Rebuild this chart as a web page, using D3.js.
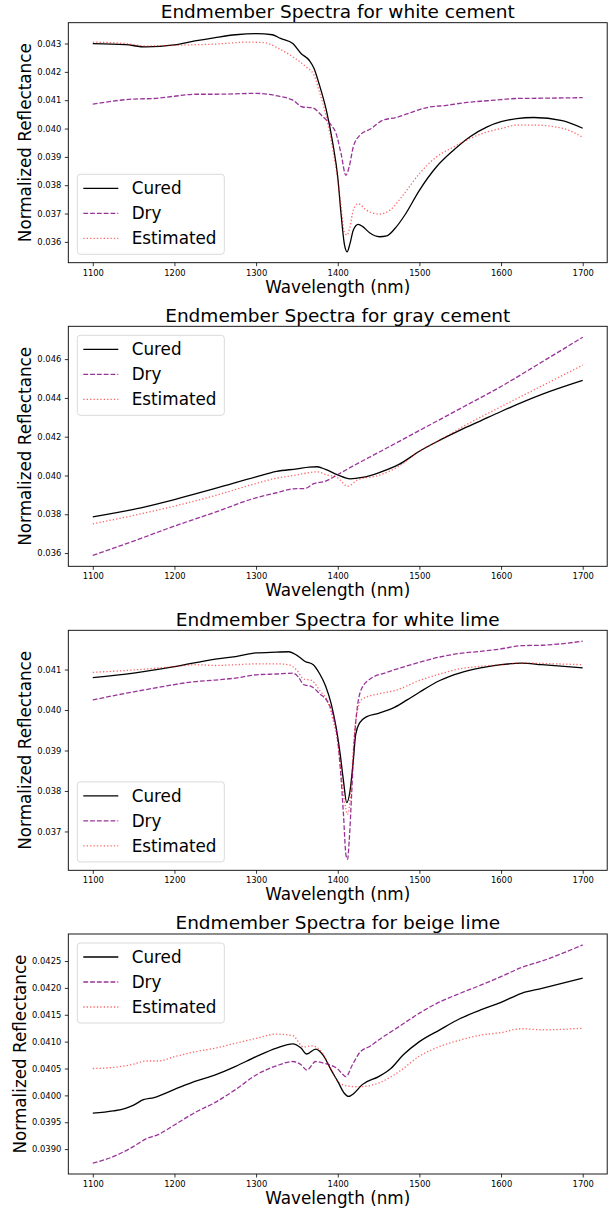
<!DOCTYPE html>
<html>
<head>
<meta charset="utf-8">
<script src="https://cdn.jsdelivr.net/npm/d3@7"></script>
<style>
  body { margin: 0; background: #fff; }
  svg { font-family: "DejaVu Sans", sans-serif; display: block; }
</style>
</head>
<body>
<svg id="chart" width="616" height="1211"></svg>
<script>
// ---- data ----
var xTicks = [1100, 1200, 1300, 1400, 1500, 1600, 1700]

// white cement
var wcCuredNm = [1100,1140,1165,1200,1225,1250,1275,1300,1320,1330,1345,1355,1365,1371,1377,1386,1394,1400,1404,1408,1411.5,1415,1419,1425,1431,1439,1451,1460,1470,1482,1500,1521,1542,1562,1583,1600,1619,1640,1675,1700]
var wcCured = [0.04300,0.04296,0.04288,0.04295,0.04309,0.04321,0.04331,0.04335,0.04331,0.04318,0.04300,0.04265,0.04241,0.04212,0.04159,0.04065,0.03947,0.03829,0.03700,0.03594,0.03565,0.03594,0.03641,0.03662,0.03653,0.03632,0.03618,0.03621,0.03647,0.03694,0.03782,0.03865,0.03924,0.03971,0.04006,0.04024,0.04035,0.04039,0.04028,0.04001]
var wcDryNm = [1100,1150,1175,1200,1225,1250,1300,1328,1345,1357,1369,1382,1392,1398,1404,1410,1414,1419,1427,1441,1455,1472,1492,1509,1533,1558,1583,1600,1619,1650,1700]
var wcDry = [0.04086,0.04104,0.04106,0.04114,0.04121,0.04121,0.04124,0.04114,0.04100,0.04076,0.04073,0.04041,0.04012,0.03982,0.03912,0.03835,0.03865,0.03935,0.03976,0.04000,0.04029,0.04039,0.04059,0.04074,0.04082,0.04092,0.04098,0.04102,0.04106,0.04107,0.04109]
var wcEstNm = [1100,1140,1165,1200,1250,1290,1310,1328,1345,1361,1371,1377,1386,1394,1400,1404,1408,1411.5,1415,1419,1425,1435,1451,1464,1480,1500,1521,1542,1562,1583,1600,1619,1640,1675,1700]
var wcEst = [0.04305,0.04300,0.04291,0.04294,0.04298,0.04305,0.04303,0.04282,0.04253,0.04218,0.04188,0.04135,0.04041,0.03924,0.03818,0.03724,0.03635,0.03624,0.03653,0.03712,0.03735,0.03712,0.03698,0.03712,0.03765,0.03841,0.03900,0.03935,0.03965,0.03988,0.04000,0.04012,0.04012,0.04001,0.03969]
var wcTicks = [0.036,0.037,0.038,0.039,0.040,0.041,0.042,0.043]

// gray cement
var gcCuredNm = [1100,1150,1200,1250,1300,1325,1350,1365,1375,1385,1400,1415,1430,1450,1475,1500,1525,1550,1575,1600,1650,1700]
var gcCured = [0.03787,0.03825,0.03876,0.03933,0.03993,0.04021,0.04034,0.04043,0.04045,0.04031,0.04003,0.03983,0.03990,0.04014,0.04057,0.04125,0.04182,0.04234,0.04282,0.04330,0.04418,0.04490]
var gcDryNm = [1100,1150,1200,1250,1300,1325,1345,1360,1370,1385,1400,1420,1450,1500,1550,1600,1650,1700]
var gcDry = [0.03588,0.03662,0.03739,0.03811,0.03885,0.03911,0.03931,0.03933,0.03957,0.03971,0.04005,0.04052,0.04119,0.04232,0.04345,0.04459,0.04585,0.04713]
var gcEstNm = [1100,1150,1200,1250,1300,1325,1350,1375,1385,1400,1412,1425,1450,1475,1500,1525,1550,1600,1650,1700]
var gcEst = [0.03751,0.03794,0.03842,0.03897,0.03959,0.03986,0.04003,0.04019,0.04005,0.03988,0.03945,0.03979,0.04000,0.04048,0.04125,0.04182,0.04244,0.04355,0.04462,0.04569]
var gcTicks = [0.036,0.038,0.040,0.042,0.044,0.046]

// white lime
var wlCuredNm = [1100,1150,1200,1250,1275,1300,1325,1340,1350,1360,1370,1378,1385,1392,1398,1403,1407,1411,1415,1419,1422,1427,1435,1450,1470,1485,1500,1525,1550,1575,1600,1625,1650,1700]
var wlCured = [0.04080,0.04091,0.04107,0.04126,0.04132,0.04141,0.04143,0.04144,0.04135,0.04120,0.04112,0.04089,0.04060,0.04015,0.03957,0.03891,0.03825,0.03771,0.03800,0.03874,0.03940,0.03969,0.03983,0.03992,0.04007,0.04025,0.04044,0.04073,0.04092,0.04104,0.04112,0.04116,0.04112,0.04104]
var wlDryNm = [1100,1150,1175,1200,1225,1250,1275,1300,1325,1345,1352,1358,1368,1378,1388,1395,1400,1404,1407,1410,1412,1414,1417,1420,1424,1430,1440,1460,1480,1500,1525,1550,1575,1600,1625,1650,1700]
var wlDry = [0.04025,0.04045,0.04054,0.04063,0.04070,0.04074,0.04079,0.04087,0.04089,0.04091,0.04081,0.04063,0.04058,0.04040,0.04019,0.03982,0.03924,0.03833,0.03742,0.03643,0.03631,0.03676,0.03792,0.03916,0.04007,0.04056,0.04077,0.04093,0.04106,0.04118,0.04131,0.04140,0.04145,0.04151,0.04159,0.04160,0.04170]
var wlEstNm = [1100,1150,1175,1200,1225,1250,1275,1300,1325,1340,1350,1358,1368,1378,1388,1395,1400,1404,1407,1410,1412,1414,1417,1420,1424,1430,1450,1470,1500,1525,1550,1575,1600,1625,1650,1700]
var wlEst = [0.04093,0.04099,0.04103,0.04107,0.04112,0.04110,0.04112,0.04114,0.04114,0.04112,0.04098,0.04077,0.04073,0.04048,0.04019,0.03969,0.03920,0.03850,0.03792,0.03755,0.03742,0.03759,0.03833,0.03932,0.03998,0.04027,0.04040,0.04048,0.04073,0.04089,0.04102,0.04108,0.04112,0.04116,0.04115,0.04112]
var wlTicks = [0.037,0.038,0.039,0.040,0.041]

// beige lime
var blCuredNm = [1100,1125,1140,1150,1162,1175,1200,1225,1250,1275,1300,1325,1345,1355,1362,1373,1382,1392,1400,1408,1413,1420,1430,1450,1465,1480,1500,1525,1550,1575,1600,1625,1650,1700]
var blCured = [0.03967,0.03971,0.03976,0.03982,0.03992,0.03996,0.04011,0.04026,0.04038,0.04054,0.04072,0.04088,0.04096,0.04088,0.04077,0.04086,0.04075,0.04047,0.04026,0.04004,0.03998,0.04004,0.04020,0.04035,0.04050,0.04075,0.04100,0.04122,0.04143,0.04159,0.04173,0.04190,0.04199,0.04218]
var blDryNm = [1100,1125,1150,1165,1180,1200,1225,1250,1275,1300,1325,1345,1355,1362,1373,1385,1400,1405,1410,1418,1427,1440,1450,1475,1500,1525,1550,1575,1600,1625,1650,1700]
var blDry = [0.03874,0.03886,0.03905,0.03919,0.03927,0.03945,0.03968,0.03987,0.04011,0.04038,0.04055,0.04063,0.04057,0.04047,0.04063,0.04059,0.04049,0.04041,0.04035,0.04057,0.04080,0.04092,0.04103,0.04128,0.04153,0.04174,0.04190,0.04205,0.04221,0.04238,0.04250,0.04280]
var blEstNm = [1100,1125,1150,1165,1180,1200,1225,1250,1275,1300,1325,1345,1358,1368,1378,1390,1400,1410,1425,1450,1475,1500,1525,1550,1575,1600,1625,1650,1700]
var blEst = [0.04050,0.04052,0.04058,0.04064,0.04064,0.04072,0.04081,0.04088,0.04097,0.04106,0.04114,0.04111,0.04090,0.04092,0.04085,0.04054,0.04026,0.04018,0.04016,0.04023,0.04044,0.04073,0.04091,0.04103,0.04112,0.04117,0.04124,0.04122,0.04125]
var blTicks = [0.0390,0.0395,0.0400,0.0405,0.0410,0.0415,0.0420,0.0425]

var seriesNames = ["Cured", "Dry", "Estimated"]

// ---- layout ----
var left = 68.3, right = 607.2
var plotH = 240
var panels = [
  { title: "Endmember Spectra for white cement", top: 22.7, legend: "lower", fmt: ".3f", ticks: wcTicks, ylabX: 31,
    series: [[wcCuredNm, wcCured], [wcDryNm, wcDry], [wcEstNm, wcEst]] },
  { title: "Endmember Spectra for gray cement", top: 326.3, legend: "upper", fmt: ".3f", ticks: gcTicks, ylabX: 31,
    series: [[gcCuredNm, gcCured], [gcDryNm, gcDry], [gcEstNm, gcEst]] },
  { title: "Endmember Spectra for white lime", top: 630.3, legend: "lower", fmt: ".3f", ticks: wlTicks, ylabX: 31,
    series: [[wlCuredNm, wlCured], [wlDryNm, wlDry], [wlEstNm, wlEst]] },
  { title: "Endmember Spectra for beige lime", top: 934, legend: "upper", fmt: ".4f", ticks: blTicks, ylabX: 26,
    series: [[blCuredNm, blCured], [blDryNm, blDry], [blEstNm, blEst]] }
]

var styles = [
  { color: "#000000", opacity: 1, dash: null },
  { color: "#800080", opacity: 0.8, dash: "4.8,2" },
  { color: "#ff0000", opacity: 0.6, dash: "1.3,2.1" }
]

var svg = d3.select("#chart")

// x 스케일: matplotlib처럼 5% 여백
var xPad = (1700 - 1100) * 0.05
var xScale = d3.scaleLinear()
  .domain([1100 - xPad, 1700 + xPad])
  .range([left, right])

panels.forEach(function(p) {
  var bottom = p.top + plotH
  var all = []
  p.series.forEach(function(s) { all = all.concat(s[1]) })
  var ext = d3.extent(all)
  var yPad = (ext[1] - ext[0]) * 0.05
  var yScale = d3.scaleLinear()
    .domain([ext[0] - yPad, ext[1] + yPad])
    .range([bottom, p.top])

  var g = svg.append("g")

  // x axis
  var xAxis = d3.axisBottom(xScale).tickValues(xTicks).tickSize(3.5).tickPadding(3.5).tickFormat(d3.format("d"))
  g.append("g")
    .attr("transform", "translate(0," + bottom + ")")
    .call(xAxis)
    .call(function(a) {
      a.select(".domain").remove()
      a.selectAll("line").attr("stroke", "#000").attr("stroke-width", 0.8)
      a.selectAll("text").attr("font-size", 8.4).attr("fill", "#000").attr("font-family", "DejaVu Sans")
    })

  // y axis
  var yAxis = d3.axisLeft(yScale).tickValues(p.ticks).tickSize(3.5).tickPadding(3.5).tickFormat(d3.format(p.fmt))
  g.append("g")
    .attr("transform", "translate(" + left + ",0)")
    .call(yAxis)
    .call(function(a) {
      a.select(".domain").remove()
      a.selectAll("line").attr("stroke", "#000").attr("stroke-width", 0.8)
      a.selectAll("text").attr("font-size", 8.4).attr("fill", "#000").attr("font-family", "DejaVu Sans")
    })

  // lines
  var line = d3.line()
    .x(function(d) { return xScale(d[0]) })
    .y(function(d) { return yScale(d[1]) })
    .curve(d3.curveMonotoneX)

  p.series.forEach(function(s, i) {
    var pts = s[0].map(function(nm, j) { return [nm, s[1][j]] })
    g.append("path")
      .datum(pts)
      .attr("d", line)
      .attr("fill", "none")
      .attr("stroke", styles[i].color)
      .attr("stroke-opacity", styles[i].opacity)
      .attr("stroke-width", 1.3)
      .attr("stroke-dasharray", styles[i].dash)
  })

  // frame
  g.append("rect")
    .attr("x", left).attr("y", p.top)
    .attr("width", right - left).attr("height", plotH)
    .attr("fill", "none").attr("stroke", "#000").attr("stroke-width", 0.9)

  // title & labels
  g.append("text")
    .attr("x", (left + right) / 2).attr("y", p.top - 4.8)
    .attr("text-anchor", "middle").attr("font-size", 18.5)
    .text(p.title)
  g.append("text")
    .attr("x", (left + right) / 2).attr("y", bottom + 30)
    .attr("text-anchor", "middle").attr("font-size", 16.8)
    .text("Wavelength (nm)")
  g.append("text")
    .attr("transform", "translate(" + p.ylabX + "," + (p.top + plotH / 2) + ") rotate(-90)")
    .attr("text-anchor", "middle").attr("font-size", 16.8)
    .text("Normalized Reflectance")

  // legend
  var lx = left + 9, lw = 147, lh = 80
  var ly = p.legend == "upper" ? p.top + 9 : bottom - 8.4 - lh
  var lg = g.append("g").attr("transform", "translate(" + lx + "," + ly + ")")
  lg.append("rect")
    .attr("width", lw).attr("height", lh).attr("rx", 3)
    .attr("fill", "#fff").attr("fill-opacity", 0.8)
    .attr("stroke", "#d6d6d6").attr("stroke-width", 0.9)
  seriesNames.forEach(function(name, i) {
    var ry = 14 + i * 25
    lg.append("line")
      .attr("x1", 6).attr("x2", 41).attr("y1", ry).attr("y2", ry)
      .attr("stroke", styles[i].color)
      .attr("stroke-opacity", styles[i].opacity)
      .attr("stroke-width", 1.3)
      .attr("stroke-dasharray", styles[i].dash)
    lg.append("text")
      .attr("x", 54.4).attr("y", ry + 6)
      .attr("font-size", 16.8)
      .text(name)
  })
})
</script>
</body>
</html>
